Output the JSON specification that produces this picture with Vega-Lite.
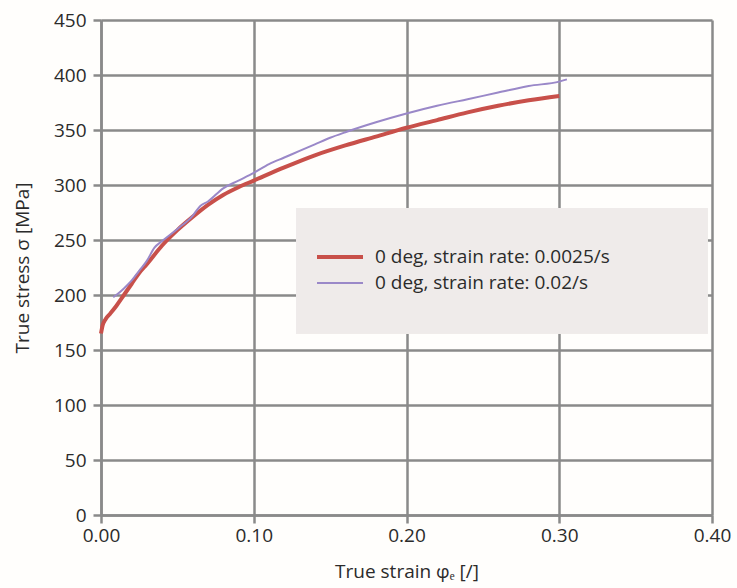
{
  "$schema": "https://vega.github.io/schema/vega-lite/v6.json",
  "width": 611,
  "height": 495,
  "autosize": "none",
  "padding": {"left": 101, "top": 20, "right": 25, "bottom": 73},
  "background": "#fffefc",
  "config": {
    "view": {"stroke": null},
    "font": "Open Sans",
    "axis": {
      "grid": true,
      "gridColor": "#8a8a8a", "gridWidth": 2.5, "gridOpacity": 1,
      "domainColor": "#8a8a8a", "domainWidth": 2.5,
      "tickColor": "#8a8a8a", "tickWidth": 2.5, "tickSize": 8,
      "labelFont": "Open Sans", "labelFontSize": 19, "labelColor": "#2b2b2b", "labelFlush": false,
      "titleFont": "Open Sans", "titleFontSize": 19, "titleFontWeight": "normal", "titleColor": "#2b2b2b"
    }
  },
  "datasets": {
    "curves": [
      {"series": "0 deg, strain rate: 0.0025/s", "strain": 0.000, "stress": 165},
      {"series": "0 deg, strain rate: 0.0025/s", "strain": 0.001, "stress": 172},
      {"series": "0 deg, strain rate: 0.0025/s", "strain": 0.003, "stress": 178},
      {"series": "0 deg, strain rate: 0.0025/s", "strain": 0.006, "stress": 183},
      {"series": "0 deg, strain rate: 0.0025/s", "strain": 0.010, "stress": 190},
      {"series": "0 deg, strain rate: 0.0025/s", "strain": 0.015, "stress": 200},
      {"series": "0 deg, strain rate: 0.0025/s", "strain": 0.020, "stress": 210},
      {"series": "0 deg, strain rate: 0.0025/s", "strain": 0.025, "stress": 220},
      {"series": "0 deg, strain rate: 0.0025/s", "strain": 0.030, "stress": 228},
      {"series": "0 deg, strain rate: 0.0025/s", "strain": 0.040, "stress": 245},
      {"series": "0 deg, strain rate: 0.0025/s", "strain": 0.050, "stress": 259},
      {"series": "0 deg, strain rate: 0.0025/s", "strain": 0.060, "stress": 271},
      {"series": "0 deg, strain rate: 0.0025/s", "strain": 0.070, "stress": 282},
      {"series": "0 deg, strain rate: 0.0025/s", "strain": 0.080, "stress": 291},
      {"series": "0 deg, strain rate: 0.0025/s", "strain": 0.090, "stress": 298},
      {"series": "0 deg, strain rate: 0.0025/s", "strain": 0.100, "stress": 304},
      {"series": "0 deg, strain rate: 0.0025/s", "strain": 0.120, "stress": 316},
      {"series": "0 deg, strain rate: 0.0025/s", "strain": 0.140, "stress": 327},
      {"series": "0 deg, strain rate: 0.0025/s", "strain": 0.160, "stress": 336},
      {"series": "0 deg, strain rate: 0.0025/s", "strain": 0.180, "stress": 344},
      {"series": "0 deg, strain rate: 0.0025/s", "strain": 0.200, "stress": 352},
      {"series": "0 deg, strain rate: 0.0025/s", "strain": 0.220, "stress": 359},
      {"series": "0 deg, strain rate: 0.0025/s", "strain": 0.240, "stress": 366},
      {"series": "0 deg, strain rate: 0.0025/s", "strain": 0.260, "stress": 372},
      {"series": "0 deg, strain rate: 0.0025/s", "strain": 0.280, "stress": 377},
      {"series": "0 deg, strain rate: 0.0025/s", "strain": 0.300, "stress": 381},
      {"series": "0 deg, strain rate: 0.02/s", "strain": 0.008, "stress": 198},
      {"series": "0 deg, strain rate: 0.02/s", "strain": 0.010, "stress": 200},
      {"series": "0 deg, strain rate: 0.02/s", "strain": 0.015, "stress": 206},
      {"series": "0 deg, strain rate: 0.02/s", "strain": 0.020, "stress": 213},
      {"series": "0 deg, strain rate: 0.02/s", "strain": 0.025, "stress": 222},
      {"series": "0 deg, strain rate: 0.02/s", "strain": 0.030, "stress": 231},
      {"series": "0 deg, strain rate: 0.02/s", "strain": 0.035, "stress": 243},
      {"series": "0 deg, strain rate: 0.02/s", "strain": 0.040, "stress": 249},
      {"series": "0 deg, strain rate: 0.02/s", "strain": 0.050, "stress": 260},
      {"series": "0 deg, strain rate: 0.02/s", "strain": 0.060, "stress": 272},
      {"series": "0 deg, strain rate: 0.02/s", "strain": 0.065, "stress": 281},
      {"series": "0 deg, strain rate: 0.02/s", "strain": 0.070, "stress": 285},
      {"series": "0 deg, strain rate: 0.02/s", "strain": 0.080, "stress": 297},
      {"series": "0 deg, strain rate: 0.02/s", "strain": 0.090, "stress": 304},
      {"series": "0 deg, strain rate: 0.02/s", "strain": 0.100, "stress": 311},
      {"series": "0 deg, strain rate: 0.02/s", "strain": 0.110, "stress": 319},
      {"series": "0 deg, strain rate: 0.02/s", "strain": 0.120, "stress": 325},
      {"series": "0 deg, strain rate: 0.02/s", "strain": 0.130, "stress": 331},
      {"series": "0 deg, strain rate: 0.02/s", "strain": 0.140, "stress": 337},
      {"series": "0 deg, strain rate: 0.02/s", "strain": 0.150, "stress": 343},
      {"series": "0 deg, strain rate: 0.02/s", "strain": 0.160, "stress": 348},
      {"series": "0 deg, strain rate: 0.02/s", "strain": 0.180, "stress": 357},
      {"series": "0 deg, strain rate: 0.02/s", "strain": 0.200, "stress": 365},
      {"series": "0 deg, strain rate: 0.02/s", "strain": 0.220, "stress": 372},
      {"series": "0 deg, strain rate: 0.02/s", "strain": 0.240, "stress": 378},
      {"series": "0 deg, strain rate: 0.02/s", "strain": 0.260, "stress": 384},
      {"series": "0 deg, strain rate: 0.02/s", "strain": 0.280, "stress": 390},
      {"series": "0 deg, strain rate: 0.02/s", "strain": 0.300, "stress": 394},
      {"series": "0 deg, strain rate: 0.02/s", "strain": 0.305, "stress": 396}
    ]
  },
  "data": {"name": "curves"},
  "layer": [
    {
      "mark": {"type": "rect", "fill": "#efebea"},
      "encoding": {
        "x": {"datum": 0.128, "type": "quantitative"},
        "x2": {"datum": 0.397},
        "y": {"datum": 279, "type": "quantitative"},
        "y2": {"datum": 165}
      }
    },
    {
      "mark": {"type": "line", "interpolate": "monotone"},
      "encoding": {
        "x": {
          "field": "strain", "type": "quantitative",
          "scale": {"domain": [0, 0.4], "nice": false, "zero": false},
          "axis": {"grid": true, "values": [0, 0.1, 0.2, 0.3, 0.4], "format": ".2f", "labelPadding": 3, "title": "True strain φₑ [/]", "titlePadding": 17}
        },
        "y": {
          "field": "stress", "type": "quantitative",
          "scale": {"domain": [0, 450], "nice": false},
          "axis": {"grid": true, "values": [0, 50, 100, 150, 200, 250, 300, 350, 400, 450], "labelPadding": 7, "title": "True stress σ [MPa]", "titlePadding": 21}
        },
        "color": {
          "field": "series", "type": "nominal",
          "scale": {"domain": ["0 deg, strain rate: 0.0025/s", "0 deg, strain rate: 0.02/s"], "range": ["#c8504a", "#9a88c8"]},
          "legend": {
            "title": null, "orient": "none", "legendX": 214, "legendY": 227,
            "symbolType": "stroke", "symbolSize": 2116, "symbolStrokeWidth": 3.5,
            "clipHeight": 20, "rowPadding": 6, "labelOffset": 10, "padding": 0,
            "labelFont": "Open Sans", "labelFontSize": 19, "labelColor": "#2b2b2b", "labelLimit": 400
          }
        },
        "strokeWidth": {
          "field": "series", "type": "nominal",
          "scale": {"domain": ["0 deg, strain rate: 0.0025/s", "0 deg, strain rate: 0.02/s"], "range": [4, 2]},
          "legend": null
        }
      }
    }
  ]
}
